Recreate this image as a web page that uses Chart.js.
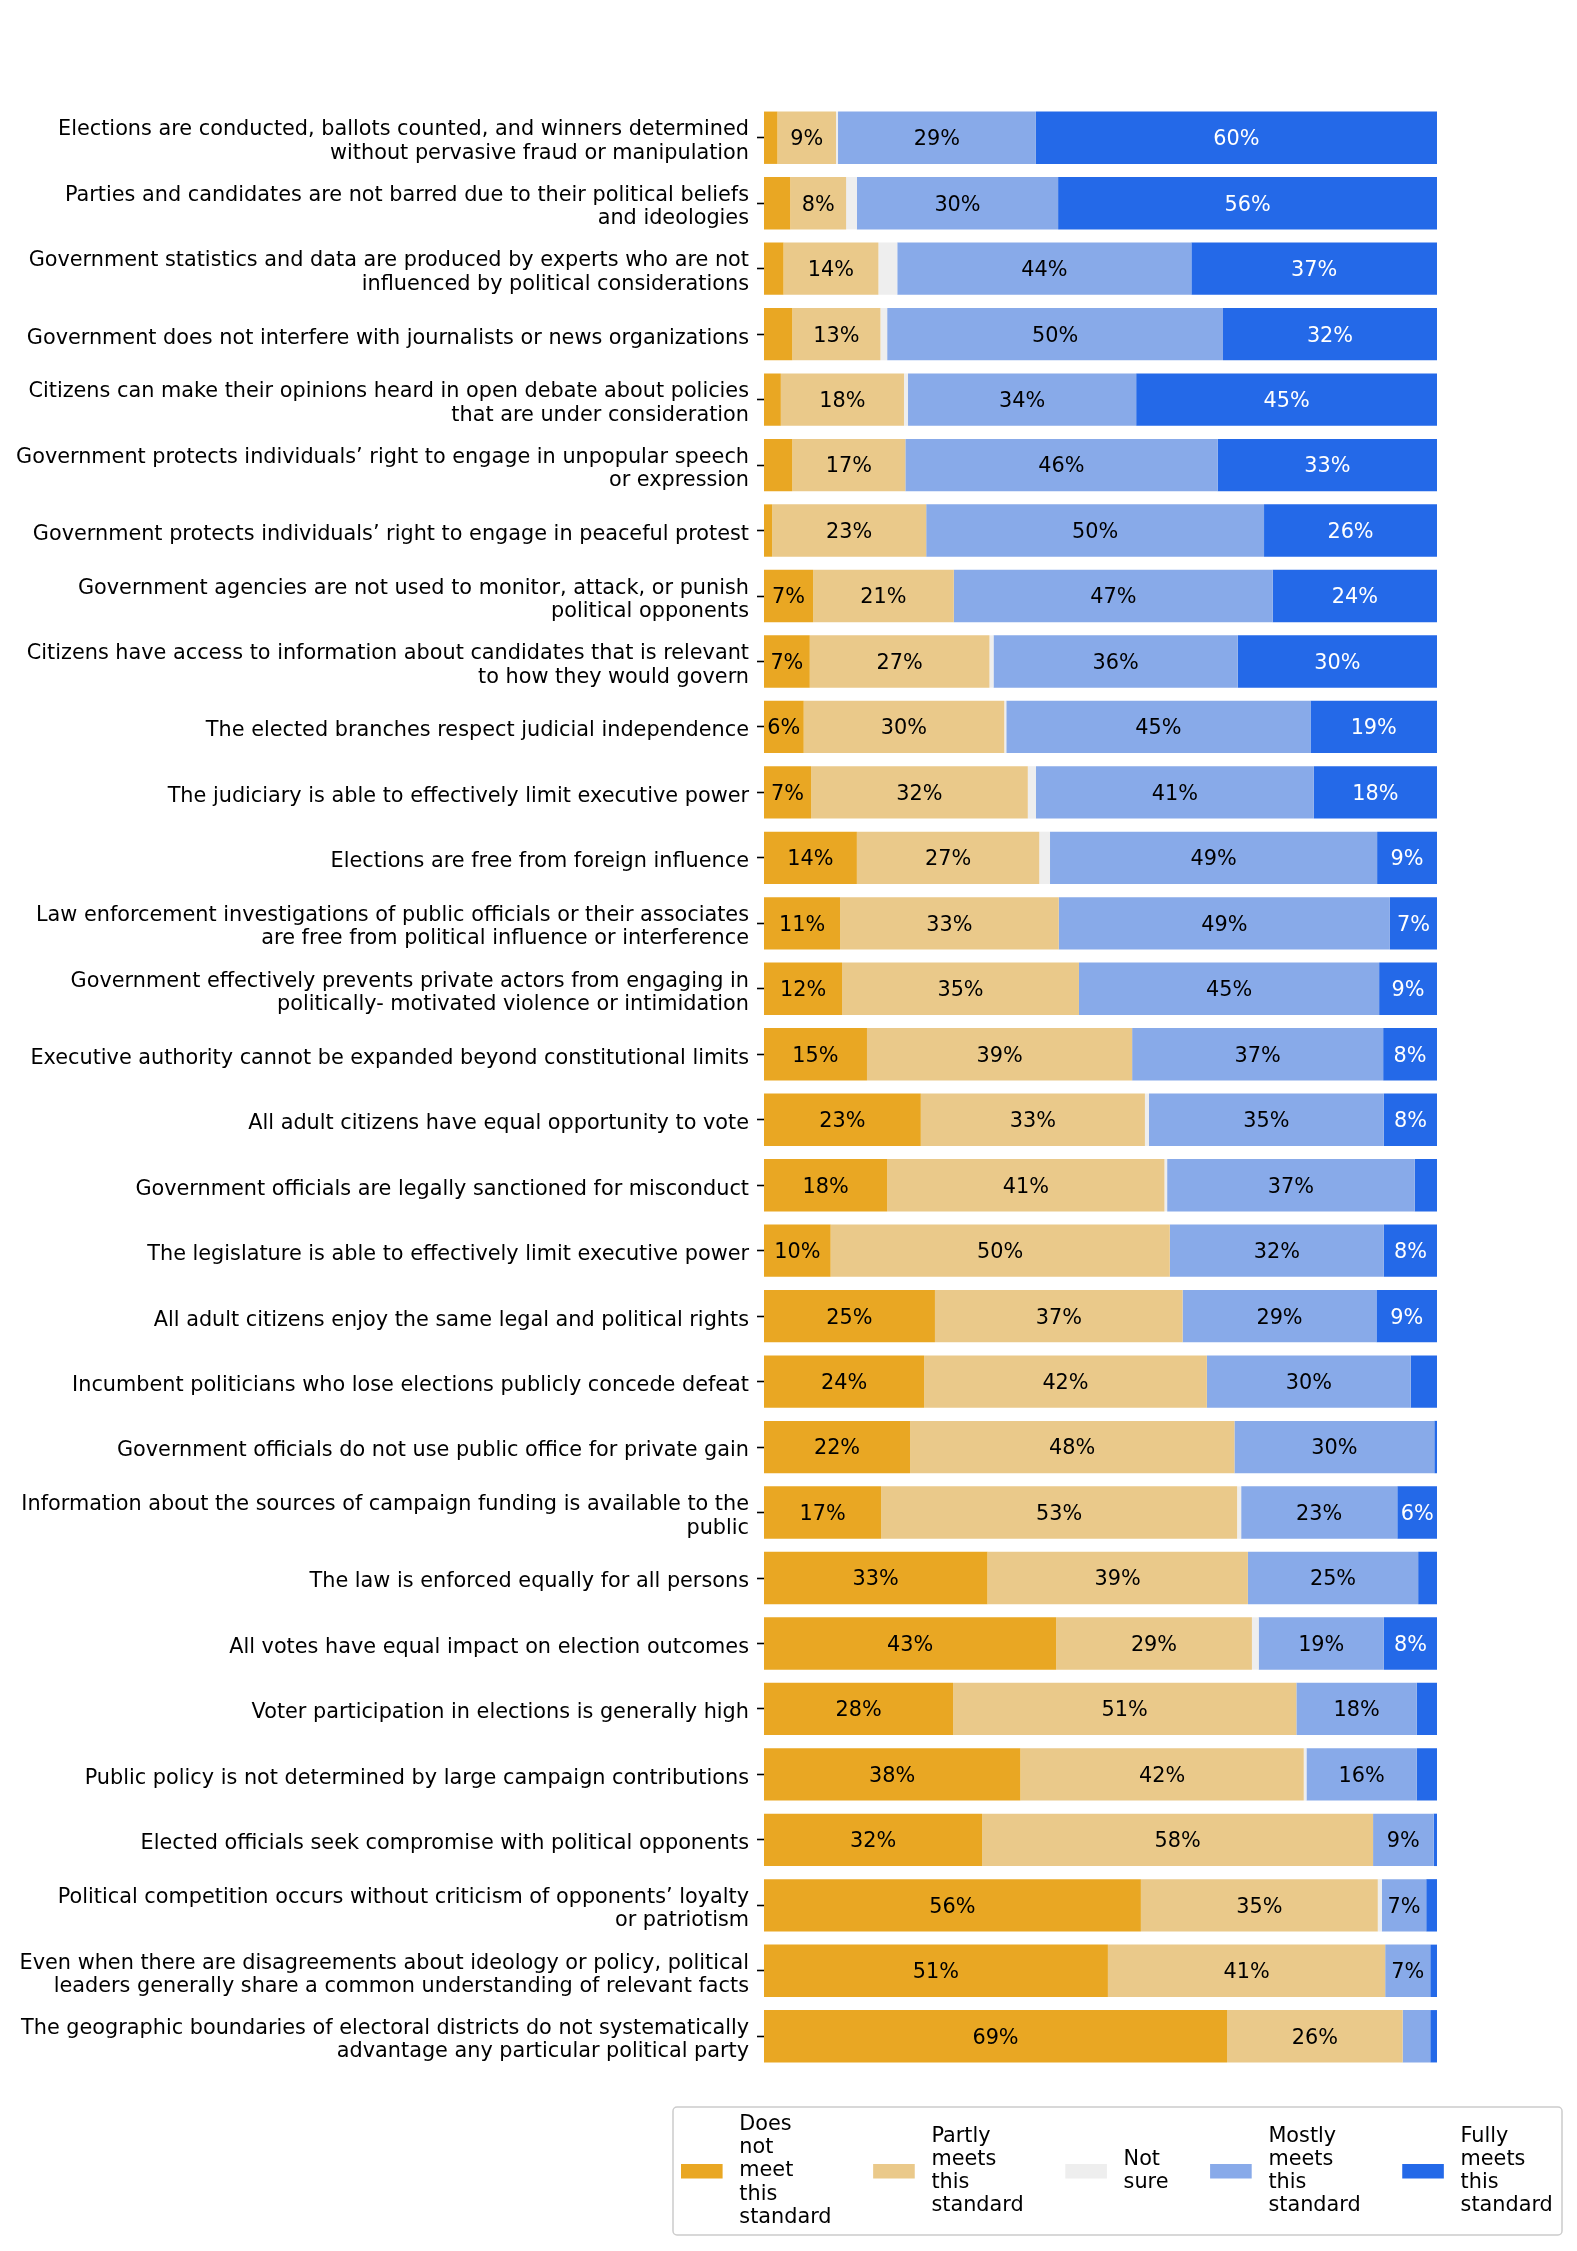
<!DOCTYPE html>
<html>
<head>
<meta charset="utf-8">
<script src="https://cdn.jsdelivr.net/npm/chart.js@4.4.1/dist/chart.umd.min.js"></script>
<style>
  html, body { margin: 0; padding: 0; background: #fff; }
  canvas { display: block; }
</style>
</head>
<body>
<canvas id="standardsChart" width="1577" height="2251"></canvas>
<script>
// categories, top to bottom
const categories = [
    ["Elections are conducted, ballots counted, and winners determined", "without pervasive fraud or manipulation"],
    ["Parties and candidates are not barred due to their political beliefs", "and ideologies"],
    ["Government statistics and data are produced by experts who are not", "influenced by political considerations"],
    "Government does not interfere with journalists or news organizations",
    ["Citizens can make their opinions heard in open debate about policies", "that are under consideration"],
    ["Government protects individuals’ right to engage in unpopular speech", "or expression"],
    "Government protects individuals’ right to engage in peaceful protest",
    ["Government agencies are not used to monitor, attack, or punish", "political opponents"],
    ["Citizens have access to information about candidates that is relevant", "to how they would govern"],
    "The elected branches respect judicial independence",
    "The judiciary is able to effectively limit executive power",
    "Elections are free from foreign influence",
    ["Law enforcement investigations of public officials or their associates", "are free from political influence or interference"],
    ["Government effectively prevents private actors from engaging in", "politically- motivated violence or intimidation"],
    "Executive authority cannot be expanded beyond constitutional limits",
    "All adult citizens have equal opportunity to vote",
    "Government officials are legally sanctioned for misconduct",
    "The legislature is able to effectively limit executive power",
    "All adult citizens enjoy the same legal and political rights",
    "Incumbent politicians who lose elections publicly concede defeat",
    "Government officials do not use public office for private gain",
    ["Information about the sources of campaign funding is available to the", "public"],
    "The law is enforced equally for all persons",
    "All votes have equal impact on election outcomes",
    "Voter participation in elections is generally high",
    "Public policy is not determined by large campaign contributions",
    "Elected officials seek compromise with political opponents",
    ["Political competition occurs without criticism of opponents’ loyalty", "or patriotism"],
    ["Even when there are disagreements about ideology or policy, political", "leaders generally share a common understanding of relevant facts"],
    ["The geographic boundaries of electoral districts do not systematically", "advantage any particular political party"]
];

// percentages per series (same order as categories)
const doesNotMeet = [2.0, 3.9, 2.9, 4.2, 2.5, 4.2, 1.2, 7.3, 6.8, 5.9, 7.0, 13.8, 11.3, 11.6, 15.3,
                     23.3, 18.3, 9.9, 25.4, 23.8, 21.7, 17.4, 33.2, 43.4, 28.1, 38.1, 32.4, 56.0, 51.1, 68.8];
const partlyMeets = [8.7, 8.3, 14.1, 13.1, 18.3, 16.8, 22.9, 20.9, 26.7, 29.8, 32.2, 27.1, 32.5, 35.2, 39.4,
                     33.3, 41.2, 50.4, 36.8, 42.0, 48.2, 52.9, 38.7, 29.1, 51.0, 42.1, 58.1, 35.2, 41.2, 26.1];
const notSure     = [0.3, 1.6, 2.8, 1.0, 0.6, 0.0, 0.0, 0.0, 0.6, 0.3, 1.2, 1.6, 0.0, 0.0, 0.0,
                     0.6, 0.4, 0.0, 0.0, 0.0, 0.0, 0.6, 0.0, 1.0, 0.0, 0.4, 0.0, 0.6, 0.0, 0.0];
const mostlyMeets = [29.4, 29.9, 43.7, 49.9, 33.9, 46.4, 50.2, 47.4, 36.3, 45.2, 41.3, 48.6, 49.2, 44.6, 37.3,
                     34.9, 36.8, 31.8, 28.8, 30.3, 29.7, 23.2, 25.3, 18.6, 17.9, 16.4, 9.0, 6.6, 6.7, 4.1];
const fullyMeets  = [59.6, 56.3, 36.5, 31.8, 44.7, 32.6, 25.7, 24.4, 29.6, 18.8, 18.3, 8.9, 7.0, 8.6, 8.0,
                     7.9, 3.3, 7.9, 9.0, 3.9, 0.4, 5.9, 2.8, 7.9, 3.0, 3.0, 0.5, 1.6, 1.0, 1.0];

const seriesNames = ["Does not meet this standard", "Partly meets this standard", "Not sure",
                     "Mostly meets this standard", "Fully meets this standard"];
const seriesColors = ["#E9A723", "#EAC98A", "#EEEEEE", "#88AAE9", "#2469E8"];
const labelColors = ["#000", "#000", "#000", "#000", "#fff"];

const FONT = "DejaVu Sans";
const FONT_SIZE = 20.8;

// percent text in the middle of each segment (only when wide enough)
const barLabels = {
    id: 'barLabels',
    afterDatasetsDraw(chart) {
        const ctx = chart.ctx;
        ctx.save();
        ctx.font = `${FONT_SIZE}px "${FONT}"`;
        ctx.textAlign = 'center';
        ctx.textBaseline = 'middle';
        chart.data.datasets.forEach((ds, i) => {
            const meta = chart.getDatasetMeta(i);
            meta.data.forEach((bar, j) => {
                const v = ds.data[j];
                if (v < 5) return;
                ctx.fillStyle = labelColors[i];
                ctx.fillText(Math.round(v) + '%', (bar.x + bar.base) / 2, bar.y + 2);
            });
        });
        ctx.restore();
    }
};

// legend box under the plot, one word per line like the original
const wordLegend = {
    id: 'wordLegend',
    afterDraw(chart) {
        const ctx = chart.ctx;
        ctx.save();
        ctx.font = `${FONT_SIZE}px "${FONT}"`;
        const boxX = 673, boxY = 2107, boxW = 889, boxH = 128;
        ctx.fillStyle = 'rgba(255,255,255,0.8)';
        ctx.strokeStyle = '#cccccc';
        ctx.lineWidth = 1.5;
        ctx.beginPath();
        ctx.roundRect(boxX, boxY, boxW, boxH, 4);
        ctx.fill();
        ctx.stroke();

        const midY = 2171;
        const lineH = 23.2;
        let x = 681;
        seriesNames.forEach((name, i) => {
            const words = name.split(' ');
            ctx.fillStyle = seriesColors[i];
            ctx.fillRect(x, midY - 7, 41.6, 14.5);
            const tx = x + 41.6 + 16.7;
            ctx.fillStyle = '#000';
            ctx.textAlign = 'left';
            ctx.textBaseline = 'middle';
            let widest = 0;
            words.forEach((w, k) => {
                const y = midY + (k - (words.length - 1) / 2) * lineH;
                ctx.fillText(w, tx, y);
                widest = Math.max(widest, ctx.measureText(w).width);
            });
            x = tx + widest + 41.6;
        });
        ctx.restore();
    }
};

const datasets = [doesNotMeet, partlyMeets, notSure, mostlyMeets, fullyMeets].map((vals, i) => ({
    label: seriesNames[i],
    data: vals,
    backgroundColor: seriesColors[i],
    borderWidth: 0,
    barPercentage: 0.8,
    categoryPercentage: 1.0
}));

const ctx = document.getElementById('standardsChart').getContext('2d');
new Chart(ctx, {
    type: 'bar',
    data: { labels: categories, datasets: datasets },
    options: {
        indexAxis: 'y',
        responsive: false,
        animation: false,
        devicePixelRatio: 1,
        layout: { padding: { top: 105, bottom: 182, left: 0, right: 140 } },
        scales: {
            x: {
                stacked: true,
                min: 0,
                max: 100,
                display: false
            },
            y: {
                stacked: true,
                afterFit(scale) { scale.width = 764; },
                border: { display: false },
                grid: {
                    offset: false,
                    drawOnChartArea: false,
                    drawTicks: true,
                    tickLength: 7,
                    tickWidth: 1.6,
                    tickColor: '#000'
                },
                ticks: {
                    autoSkip: false,
                    padding: 8,
                    labelOffset: 4,
                    color: '#000',
                    font: { family: FONT, size: FONT_SIZE, lineHeight: 1.12 }
                }
            }
        },
        plugins: {
            legend: { display: false },
            tooltip: { enabled: false }
        }
    },
    plugins: [barLabels, wordLegend]
});
</script>
</body>
</html>
